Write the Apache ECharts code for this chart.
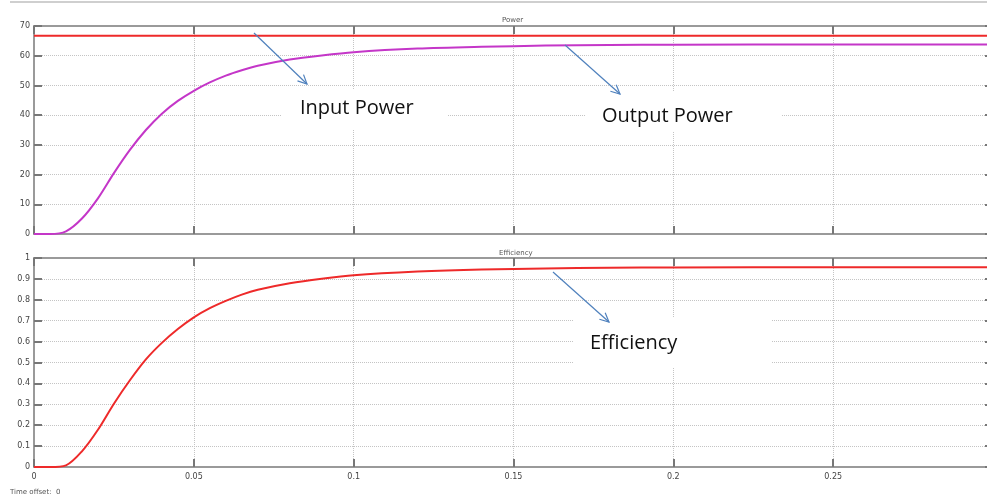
<!DOCTYPE html>
<html>
<head>
<meta charset="utf-8">
<script src="https://cdn.jsdelivr.net/npm/echarts@6/dist/echarts.min.js"></script>
<style>
  html, body { margin: 0; padding: 0; background: #fff; }
  #main { width: 987px; height: 499px; }
</style>
</head>
<body>
<div id="main"></div>
<script>
// time axis (s)
const timeS = [0, 0.005, 0.01, 0.015, 0.02, 0.025, 0.03, 0.035, 0.04, 0.045, 0.05,
  0.055, 0.06, 0.065, 0.07, 0.08, 0.09, 0.1, 0.12, 0.14, 0.16, 0.18, 0.2, 0.25, 0.3];
// input power (W) - constant
const inputPower = [66.7, 66.7, 66.7, 66.7, 66.7, 66.7, 66.7, 66.7, 66.7, 66.7, 66.7,
  66.7, 66.7, 66.7, 66.7, 66.7, 66.7, 66.7, 66.7, 66.7, 66.7, 66.7, 66.7, 66.7, 66.7];
// output power (W)
const outputPower = [0, 0, 0.9, 5.2, 12.0, 20.5, 28.3, 35.0, 40.5, 44.8, 48.2,
  51.0, 53.3, 55.1, 56.6, 58.7, 60.1, 61.2, 62.4, 63.0, 63.4, 63.6, 63.7, 63.8, 63.8];
// efficiency
const efficiency = [0, 0, 0.008, 0.075, 0.178, 0.303, 0.415, 0.515, 0.594, 0.66, 0.716,
  0.76, 0.795, 0.825, 0.848, 0.879, 0.901, 0.918, 0.935, 0.945, 0.95, 0.953, 0.955, 0.956, 0.956];

const powerTicks = [0, 10, 20, 30, 40, 50, 60, 70];
const effTicks = [0, 0.1, 0.2, 0.3, 0.4, 0.5, 0.6, 0.7, 0.8, 0.9, 1];
const xTicks = [0, 0.05, 0.1, 0.15, 0.2, 0.25, 0.3];

const pairs = (ys) => timeS.map((t, i) => [t, ys[i]]);

const frameColor = '#9a9a9a';
const gridLine = { show: true, lineStyle: { type: 'dotted', color: '#c4c4c4', width: 1 } };
const tick = { show: true, inside: true, length: 8, lineStyle: { color: '#777', width: 2 } };
const labelStyle = { color: '#444', fontSize: 8, fontFamily: 'DejaVu Sans' };

function xAx(gridIndex, position, showLabel) {
  return {
    type: 'value', gridIndex, position,
    min: xTicks[0], max: xTicks[xTicks.length - 1], interval: 0.05,
    axisLine: { show: true, onZero: false, lineStyle: { color: frameColor, width: 2 } },
    axisTick: tick,
    axisLabel: Object.assign({ show: showLabel, margin: 6 }, labelStyle),
    splitLine: position === 'bottom' ? gridLine : { show: false }
  };
}
function yAx(gridIndex, position, ticks, interval) {
  return {
    type: 'value', gridIndex, position,
    min: ticks[0], max: ticks[ticks.length - 1], interval,
    axisLine: { show: true, onZero: false, lineStyle: { color: frameColor, width: 2 } },
    axisTick: tick,
    axisLabel: Object.assign({ show: position === 'left', margin: 4 }, labelStyle),
    splitLine: position === 'left' ? gridLine : { show: false }
  };
}

const chart = echarts.init(document.getElementById('main'));
chart.setOption({
  animation: false,
  backgroundColor: '#fff',
  title: [
    { text: 'Power', left: 497, top: 12, textStyle: { fontSize: 7, fontWeight: 'normal', color: '#555', fontFamily: 'DejaVu Sans' } },
    { text: 'Efficiency', left: 494, top: 245, textStyle: { fontSize: 7, fontWeight: 'normal', color: '#555', fontFamily: 'DejaVu Sans' } }
  ],
  grid: [
    { left: 34, top: 26, width: 959, height: 208, outerBoundsMode: 'none', containLabel: false },
    { left: 34, top: 258, width: 959, height: 209, outerBoundsMode: 'none', containLabel: false }
  ],
  xAxis: [
    xAx(0, 'bottom', false), xAx(0, 'top', false),
    xAx(1, 'bottom', true), xAx(1, 'top', false)
  ],
  yAxis: [
    yAx(0, 'left', powerTicks, 10), yAx(0, 'right', powerTicks, 10),
    yAx(1, 'left', effTicks, 0.1), yAx(1, 'right', effTicks, 0.1)
  ],
  series: [
    {
      name: 'Input Power', type: 'line', xAxisIndex: 0, yAxisIndex: 0,
      data: pairs(inputPower), showSymbol: false,
      lineStyle: { color: '#ee2a2a', width: 2 }, z: 3
    },
    {
      name: 'Output Power', type: 'line', xAxisIndex: 0, yAxisIndex: 0,
      data: pairs(outputPower), showSymbol: false, smooth: 0.3,
      lineStyle: { color: '#c436c8', width: 2 }, z: 2
    },
    {
      name: 'Efficiency', type: 'line', xAxisIndex: 2, yAxisIndex: 2,
      data: pairs(efficiency), showSymbol: false, smooth: 0.3,
      lineStyle: { color: '#ee2a2a', width: 2 }
    }
  ]
});

// callout annotations (white boxes, labels, blue arrows)
function arrow(x1, y1, x2, y2) {
  const ang = Math.atan2(y2 - y1, x2 - x1), h = 10, s = 0.45;
  const p1 = [x2 - h * Math.cos(ang - s), y2 - h * Math.sin(ang - s)];
  const p2 = [x2 - h * Math.cos(ang + s), y2 - h * Math.sin(ang + s)];
  const st = { stroke: '#4f81bd', lineWidth: 1.2 };
  return [
    { type: 'line', shape: { x1, y1, x2, y2 }, style: st, z: 20 },
    { type: 'polyline', shape: { points: [p1, [x2, y2], p2] }, style: Object.assign({ fill: null }, st), z: 20 }
  ];
}
function callout(x, y, w, h, label, tx, ty) {
  return [
    { type: 'rect', shape: { x, y, width: w, height: h }, style: { fill: '#fff' }, z: 10 },
    { type: 'text', x: tx, y: ty, style: { text: label, fill: '#111', fontSize: 20, fontFamily: 'Open Sans', textVerticalAlign: 'middle' }, z: 11 }
  ];
}
chart.setOption({
  graphic: [
    { type: 'line', shape: { x1: 10, y1: 2, x2: 987, y2: 2 }, style: { stroke: '#cfcfcf', lineWidth: 2 } },
    { type: 'text', left: 10, top: 489, style: { text: 'Time offset:  0', fill: '#555', fontSize: 7, fontFamily: 'DejaVu Sans' } }
  ]
    .concat(callout(281, 89, 167, 41, 'Input Power', 300, 108))
    .concat(callout(586, 91, 196, 41, 'Output Power', 602, 116))
    .concat(callout(574, 317, 198, 50, 'Efficiency', 590, 343))
    .concat(arrow(254, 33, 307, 84))
    .concat(arrow(565, 45, 620, 94))
    .concat(arrow(553, 272, 609, 322))
});
</script>
</body>
</html>
